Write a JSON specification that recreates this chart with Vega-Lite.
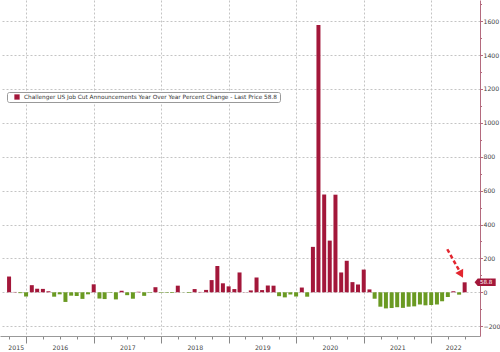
{
  "$schema": "https://vega.github.io/schema/vega-lite/v6.json",
  "width": 480,
  "height": 336,
  "autosize": {"type": "none"},
  "padding": {"left": 0, "top": 0, "right": 20, "bottom": 16},
  "background": "white",
  "config": {"view": {"stroke": null}, "font": "DejaVu Sans"},
  "resolve": {"axis": {"x": "independent", "y": "independent"}},
  "datasets": {
    "jobcuts": [
      {"date": "2015-09-30", "value": 93}, {"date": "2015-10-31", "value": 2}, {"date": "2015-11-30", "value": -5}, {"date": "2015-12-31", "value": -25},
      {"date": "2016-01-31", "value": 42}, {"date": "2016-02-29", "value": 21}, {"date": "2016-03-31", "value": 20}, {"date": "2016-04-30", "value": 6},
      {"date": "2016-05-31", "value": -26}, {"date": "2016-06-30", "value": -12}, {"date": "2016-07-31", "value": -57}, {"date": "2016-08-31", "value": -20},
      {"date": "2016-09-30", "value": -22}, {"date": "2016-10-31", "value": -39}, {"date": "2016-11-30", "value": -12}, {"date": "2016-12-31", "value": 47},
      {"date": "2017-01-31", "value": -37}, {"date": "2017-02-28", "value": -40}, {"date": "2017-03-31", "value": -3}, {"date": "2017-04-30", "value": -42},
      {"date": "2017-05-31", "value": 9}, {"date": "2017-06-30", "value": -17}, {"date": "2017-07-31", "value": -38}, {"date": "2017-08-31", "value": 3},
      {"date": "2017-09-30", "value": -21}, {"date": "2017-10-31", "value": -3}, {"date": "2017-11-30", "value": 30}, {"date": "2017-12-31", "value": -3},
      {"date": "2018-01-31", "value": -3}, {"date": "2018-02-28", "value": -4}, {"date": "2018-03-31", "value": 39}, {"date": "2018-04-30", "value": -1},
      {"date": "2018-05-31", "value": -4}, {"date": "2018-06-30", "value": 19}, {"date": "2018-07-31", "value": 2}, {"date": "2018-08-31", "value": 14},
      {"date": "2018-09-30", "value": 72}, {"date": "2018-10-31", "value": 155}, {"date": "2018-11-30", "value": 53}, {"date": "2018-12-31", "value": 35},
      {"date": "2019-01-31", "value": 19}, {"date": "2019-02-28", "value": 117}, {"date": "2019-03-31", "value": 1}, {"date": "2019-04-30", "value": 11},
      {"date": "2019-05-31", "value": 87}, {"date": "2019-06-30", "value": 13}, {"date": "2019-07-31", "value": 40}, {"date": "2019-08-31", "value": 39},
      {"date": "2019-09-30", "value": -23}, {"date": "2019-10-31", "value": -30}, {"date": "2019-11-30", "value": -13}, {"date": "2019-12-31", "value": -25},
      {"date": "2020-01-31", "value": 28}, {"date": "2020-02-29", "value": -26}, {"date": "2020-03-31", "value": 268}, {"date": "2020-04-30", "value": 1577},
      {"date": "2020-05-31", "value": 577}, {"date": "2020-06-30", "value": 305}, {"date": "2020-07-31", "value": 576}, {"date": "2020-08-31", "value": 117},
      {"date": "2020-09-30", "value": 186}, {"date": "2020-10-31", "value": 60}, {"date": "2020-11-30", "value": 46}, {"date": "2020-12-31", "value": 134},
      {"date": "2021-01-31", "value": 17}, {"date": "2021-02-28", "value": -38}, {"date": "2021-03-31", "value": -85}, {"date": "2021-04-30", "value": -95},
      {"date": "2021-05-31", "value": -93}, {"date": "2021-06-30", "value": -88}, {"date": "2021-07-31", "value": -92}, {"date": "2021-08-31", "value": -85},
      {"date": "2021-09-30", "value": -83}, {"date": "2021-10-31", "value": -72}, {"date": "2021-11-30", "value": -77}, {"date": "2021-12-31", "value": -75},
      {"date": "2022-01-31", "value": -72}, {"date": "2022-02-28", "value": -53}, {"date": "2022-03-31", "value": -28}, {"date": "2022-04-30", "value": 6},
      {"date": "2022-05-31", "value": -14}, {"date": "2022-06-30", "value": 58.8}
    ],
    "arrow": [{"start": "2022-03-28", "from": 254, "end": "2022-06-04", "to": 122}],
    "arrowhead": [{"date": "2022-06-11", "value": 106}]
  },
  "layer": [
    {
      "data": {"name": "jobcuts"},
      "mark": {"type": "bar", "size": 4},
      "encoding": {
        "x": {
          "field": "date",
          "type": "temporal",
          "title": null,
          "scale": {"domain": [{"year": 2015, "month": 9, "date": 8}, {"year": 2022, "month": 8, "date": 25}]},
          "axis": {
            "orient": "bottom",
            "values": [
              {"year": 2015, "month": 10, "date": 1},
              {"year": 2016, "month": 1, "date": 1}, {"year": 2016, "month": 4, "date": 1}, {"year": 2016, "month": 7, "date": 1}, {"year": 2016, "month": 10, "date": 1},
              {"year": 2017, "month": 1, "date": 1}, {"year": 2017, "month": 4, "date": 1}, {"year": 2017, "month": 7, "date": 1}, {"year": 2017, "month": 10, "date": 1},
              {"year": 2018, "month": 1, "date": 1}, {"year": 2018, "month": 4, "date": 1}, {"year": 2018, "month": 7, "date": 1}, {"year": 2018, "month": 10, "date": 1},
              {"year": 2019, "month": 1, "date": 1}, {"year": 2019, "month": 4, "date": 1}, {"year": 2019, "month": 7, "date": 1}, {"year": 2019, "month": 10, "date": 1},
              {"year": 2020, "month": 1, "date": 1}, {"year": 2020, "month": 4, "date": 1}, {"year": 2020, "month": 7, "date": 1}, {"year": 2020, "month": 10, "date": 1},
              {"year": 2021, "month": 1, "date": 1}, {"year": 2021, "month": 4, "date": 1}, {"year": 2021, "month": 7, "date": 1}, {"year": 2021, "month": 10, "date": 1},
              {"year": 2022, "month": 1, "date": 1}, {"year": 2022, "month": 4, "date": 1}, {"year": 2022, "month": 7, "date": 1}
            ],
            "labels": false,
            "grid": true,
            "gridDash": [2, 2],
            "gridColor": "#c4c4c4",
            "gridOpacity": {"condition": {"test": "month(datum.value) == 0", "value": 1}, "value": 0},
            "tickSize": {"condition": {"test": "month(datum.value) == 0", "value": 7}, "value": 3},
            "tickColor": "#888",
            "domainColor": "#999"
          }
        },
        "y": {
          "field": "value",
          "type": "quantitative",
          "title": null,
          "scale": {"domain": [-258, 1725], "nice": false, "zero": false},
          "axis": {
            "orient": "right",
            "values": [-200, 0, 200, 400, 600, 800, 1000, 1200, 1400, 1600],
            "format": "d",
            "labelOverlap": false,
            "labelFlush": false,
            "labelBound": false,
            "labelFontSize": 6.2,
            "labelColor": "#444",
            "labelPadding": 0.5,
            "grid": true,
            "gridDash": [2, 2],
            "gridColor": "#c4c4c4",
            "tickSize": 2.5,
            "tickColor": "#b46a7e",
            "domainColor": "#b46a7e"
          }
        },
        "color": {
          "condition": {"test": "datum.value < 0", "value": "#6a9a22"},
          "datum": "Challenger US Job Cut Announcements Year Over Year Percent Change - Last Price 58.8",
          "type": "nominal",
          "scale": {"range": ["#a3173a"]},
          "legend": {
            "orient": "none",
            "legendX": 7,
            "legendY": 92,
            "title": null,
            "symbolType": "square",
            "symbolSize": 28,
            "symbolStrokeWidth": 0,
            "labelFontSize": 5.8,
            "labelColor": "#333",
            "labelLimit": 400,
            "labelOffset": 4,
            "strokeColor": "#999",
            "fillColor": "#ffffff",
            "padding": 2,
            "symbolOffset": 5,
            "cornerRadius": 2
          }
        }
      }
    },
    {
      "data": {"name": "arrow"},
      "mark": {"type": "rule", "color": "#e3262f", "strokeWidth": 2.5, "strokeDash": [4, 2.5]},
      "encoding": {
        "x": {"field": "start", "type": "temporal", "axis": null},
        "x2": {"field": "end"},
        "y": {"field": "from", "type": "quantitative", "axis": null},
        "y2": {"field": "to"}
      }
    },
    {
      "data": {"name": "arrowhead"},
      "mark": {"type": "point", "shape": "triangle-down", "angle": -29, "size": 80, "filled": true, "opacity": 1, "color": "#e3262f"},
      "encoding": {
        "x": {
          "field": "date",
          "type": "temporal",
          "title": null,
          "axis": {
            "orient": "bottom",
            "values": [
              {"year": 2015, "month": 11, "date": 5}, {"year": 2016, "month": 7, "date": 1}, {"year": 2017, "month": 7, "date": 1},
              {"year": 2018, "month": 7, "date": 1}, {"year": 2019, "month": 7, "date": 1}, {"year": 2020, "month": 7, "date": 1},
              {"year": 2021, "month": 7, "date": 1}, {"year": 2022, "month": 4, "date": 29}
            ],
            "format": "%Y",
            "ticks": false,
            "grid": false,
            "gridOpacity": 0,
            "domain": false,
            "labelOverlap": false,
            "labelFlush": false,
            "labelBound": false,
            "labelFontSize": 6.2,
            "labelColor": "#444",
            "labelPadding": 8
          }
        },
        "y": {
          "field": "value",
          "type": "quantitative",
          "title": null,
          "axis": {
            "orient": "right",
            "values": [-100, 100, 300, 500, 700, 900, 1100, 1300, 1500, 1700],
            "labels": false,
            "grid": false,
            "gridOpacity": 0,
            "domain": false,
            "tickSize": 1.5,
            "tickColor": "#b46a7e"
          }
        }
      }
    },
    {
      "data": {"name": "jobcuts"},
      "transform": [{"filter": "datum.value == 58.8"}],
      "mark": {"type": "point", "shape": "M-1.2,0L-0.85,-0.42L1.15,-0.42L1.15,0.42L-0.85,0.42Z", "size": 324, "filled": true, "opacity": 1, "color": "#a3173a", "xOffset": 20.7},
      "encoding": {
        "x": {"field": "date", "type": "temporal", "axis": null},
        "y": {"field": "value", "type": "quantitative", "axis": null}
      }
    },
    {
      "data": {"name": "jobcuts"},
      "transform": [{"filter": "datum.value == 58.8"}],
      "mark": {"type": "text", "color": "white", "fontSize": 5.6, "align": "center", "baseline": "middle", "xOffset": 21.5},
      "encoding": {
        "x": {"field": "date", "type": "temporal", "axis": null},
        "y": {"field": "value", "type": "quantitative", "axis": null},
        "text": {"field": "value", "type": "quantitative", "format": ".1f"}
      }
    }
  ]
}
